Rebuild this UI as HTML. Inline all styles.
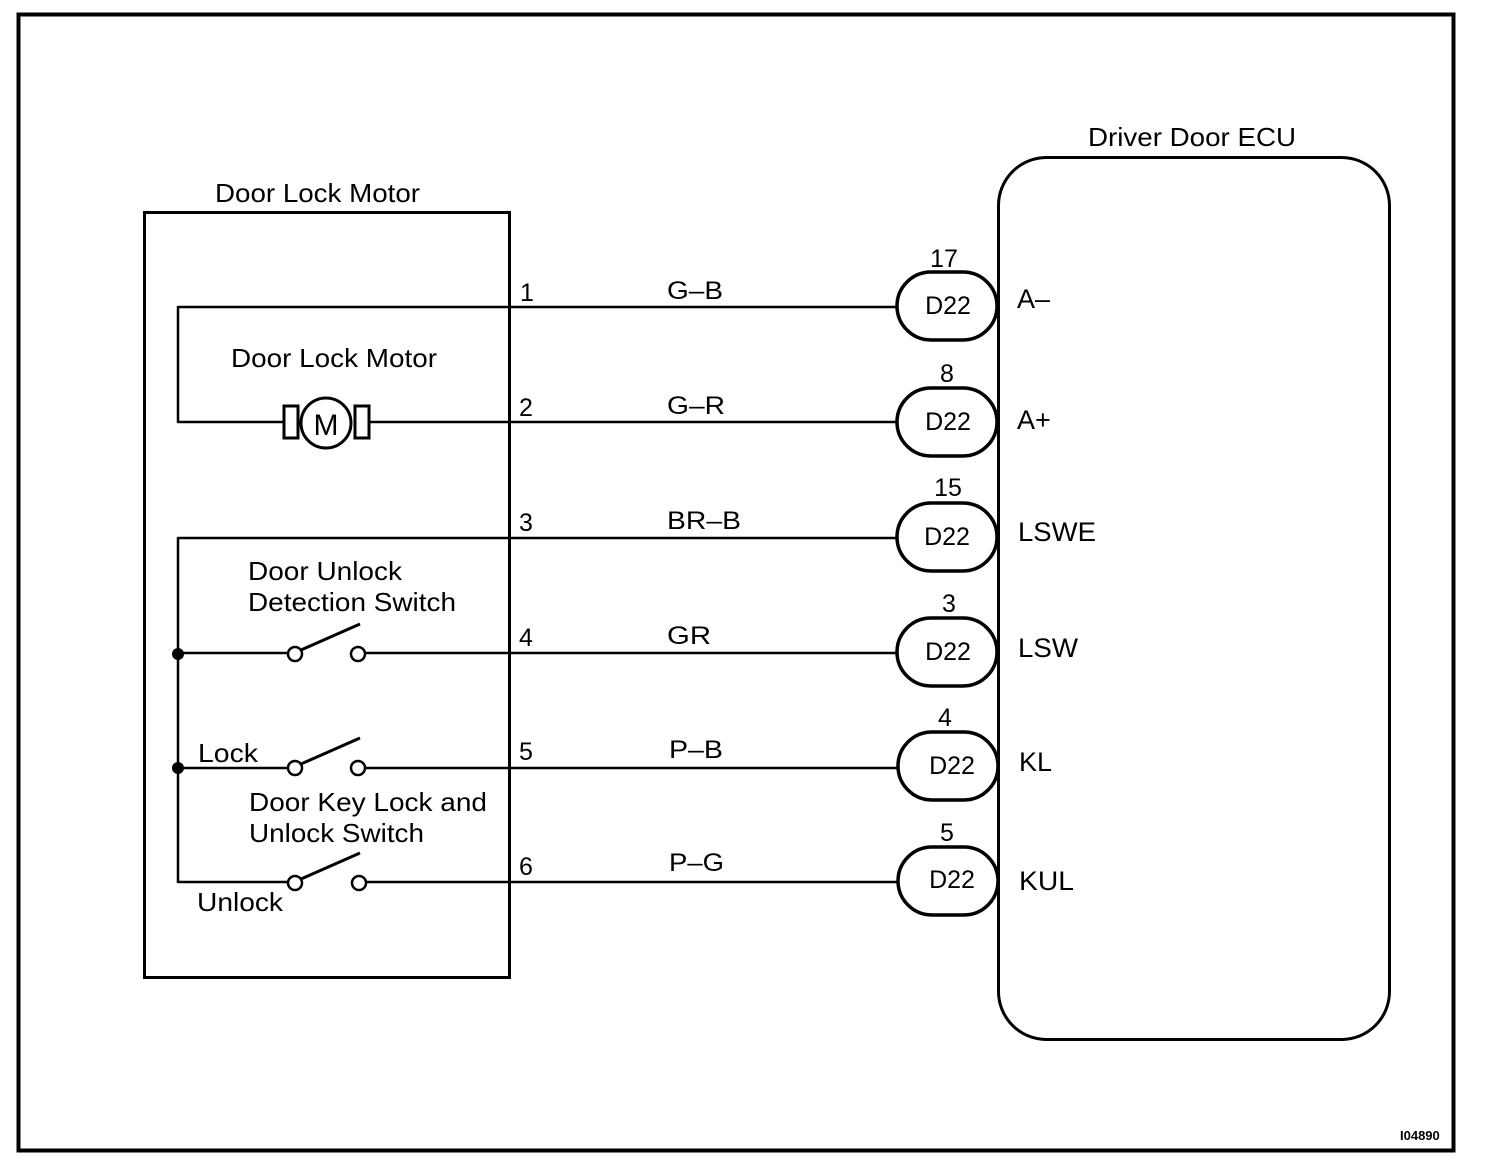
<!DOCTYPE html>
<html><head><meta charset="utf-8"><style>
html,body{margin:0;padding:0;background:#fff;}
svg{display:block;}
text{font-family:"Liberation Sans",Arial,sans-serif;fill:#000;}
</style></head><body>
<svg width="1504" height="1172" viewBox="0 0 1504 1172" xmlns="http://www.w3.org/2000/svg">
<rect x="0" y="0" width="1504" height="1172" fill="#fff"/>
<rect x="18.5" y="14.5" width="1435" height="1136" fill="none" stroke="#000" stroke-width="4"/>
<text x="1400" y="1140" font-size="13" font-weight="bold">I04890</text>

<rect x="144.5" y="212.5" width="365" height="765" fill="none" stroke="#000" stroke-width="3"/>
<text x="215" y="202" font-size="26" textLength="205" lengthAdjust="spacingAndGlyphs">Door Lock Motor</text>

<rect x="998.5" y="157.5" width="391" height="882" rx="48" ry="48" fill="none" stroke="#000" stroke-width="3"/>
<text x="1088" y="146" font-size="26" textLength="208" lengthAdjust="spacingAndGlyphs">Driver Door ECU</text>

<g stroke="#000" stroke-width="2.5" fill="none">
  <line x1="178" y1="307" x2="897" y2="307"/>
  <line x1="370" y1="422" x2="897" y2="422"/>
  <line x1="178" y1="422" x2="283" y2="422"/>
  <line x1="178" y1="306" x2="178" y2="423"/>
  <line x1="178" y1="538" x2="897" y2="538"/>
  <line x1="178" y1="537" x2="178" y2="883"/>
  <line x1="178" y1="653" x2="288" y2="653"/>
  <line x1="365" y1="653" x2="897" y2="653"/>
  <line x1="178" y1="768" x2="288" y2="768"/>
  <line x1="365" y1="768" x2="898" y2="768"/>
  <line x1="178" y1="882" x2="288" y2="882"/>
  <line x1="365" y1="882" x2="898" y2="882"/>
  <circle cx="295" cy="654" r="7" fill="#fff"/>
  <circle cx="358" cy="654" r="7" fill="#fff"/>
  <line x1="301" y1="650" x2="360" y2="624" stroke-width="3"/>
  <circle cx="295" cy="768" r="7" fill="#fff"/>
  <circle cx="358" cy="768" r="7" fill="#fff"/>
  <line x1="301" y1="764" x2="360" y2="738" stroke-width="3"/>
  <circle cx="295" cy="883" r="7" fill="#fff"/>
  <circle cx="359" cy="883" r="7" fill="#fff"/>
  <line x1="301" y1="879" x2="360" y2="853" stroke-width="3"/>
  <rect x="284" y="406" width="14" height="32" stroke-width="3"/>
  <rect x="355" y="406" width="14" height="32" stroke-width="3"/>
  <circle cx="326" cy="423" r="25" fill="#fff" stroke-width="3"/>
  <rect x="897" y="272" width="100" height="68" rx="34" stroke-width="3.5" fill="#fff"/>
  <rect x="897" y="388" width="100" height="68" rx="34" stroke-width="3.5" fill="#fff"/>
  <rect x="897" y="503" width="100" height="68" rx="34" stroke-width="3.5" fill="#fff"/>
  <rect x="897" y="618" width="100" height="68" rx="34" stroke-width="3.5" fill="#fff"/>
  <rect x="898" y="732" width="100" height="68" rx="34" stroke-width="3.5" fill="#fff"/>
  <rect x="898" y="847" width="100" height="68" rx="34" stroke-width="3.5" fill="#fff"/>
</g>
<circle cx="178" cy="654" r="6" fill="#000"/>
<circle cx="178" cy="768" r="6" fill="#000"/>
<text x="326" y="435" font-size="30" text-anchor="middle">M</text>

<g font-size="26">
<text x="231" y="367" textLength="206" lengthAdjust="spacingAndGlyphs">Door Lock Motor</text>
<text x="248" y="580" textLength="154" lengthAdjust="spacingAndGlyphs">Door Unlock</text>
<text x="248" y="611" textLength="208" lengthAdjust="spacingAndGlyphs">Detection Switch</text>
<text x="198" y="762" textLength="60" lengthAdjust="spacingAndGlyphs">Lock</text>
<text x="249" y="811" textLength="238" lengthAdjust="spacingAndGlyphs">Door Key Lock and</text>
<text x="249" y="842" textLength="175" lengthAdjust="spacingAndGlyphs">Unlock Switch</text>
<text x="197" y="911" textLength="86" lengthAdjust="spacingAndGlyphs">Unlock</text>
</g>

<g font-size="25">
<text x="520" y="301">1</text>
<text x="519" y="416">2</text>
<text x="519" y="531">3</text>
<text x="519" y="646">4</text>
<text x="519" y="760">5</text>
<text x="519" y="875">6</text>
<text x="667" y="299" textLength="56" lengthAdjust="spacingAndGlyphs">G–B</text>
<text x="667" y="414" textLength="58" lengthAdjust="spacingAndGlyphs">G–R</text>
<text x="667" y="529" textLength="74" lengthAdjust="spacingAndGlyphs">BR–B</text>
<text x="667" y="644" textLength="44" lengthAdjust="spacingAndGlyphs">GR</text>
<text x="669" y="758" textLength="54" lengthAdjust="spacingAndGlyphs">P–B</text>
<text x="669" y="871" textLength="55" lengthAdjust="spacingAndGlyphs">P–G</text>
<text x="944" y="267" text-anchor="middle">17</text>
<text x="947" y="382" text-anchor="middle">8</text>
<text x="948" y="496" text-anchor="middle">15</text>
<text x="949" y="612" text-anchor="middle">3</text>
<text x="945" y="726" text-anchor="middle">4</text>
<text x="947" y="841" text-anchor="middle">5</text>
<text x="948" y="314" text-anchor="middle">D22</text>
<text x="948" y="430" text-anchor="middle">D22</text>
<text x="947" y="545" text-anchor="middle">D22</text>
<text x="948" y="660" text-anchor="middle">D22</text>
<text x="952" y="774" text-anchor="middle">D22</text>
<text x="952" y="888" text-anchor="middle">D22</text>
</g>
<g font-size="27">
<text x="1017" y="308">A–</text>
<text x="1017" y="429">A+</text>
<text x="1018" y="541" textLength="78" lengthAdjust="spacingAndGlyphs">LSWE</text>
<text x="1018" y="657" textLength="60" lengthAdjust="spacingAndGlyphs">LSW</text>
<text x="1019" y="771">KL</text>
<text x="1019" y="890" textLength="55" lengthAdjust="spacingAndGlyphs">KUL</text>
</g>
</svg>
</body></html>
